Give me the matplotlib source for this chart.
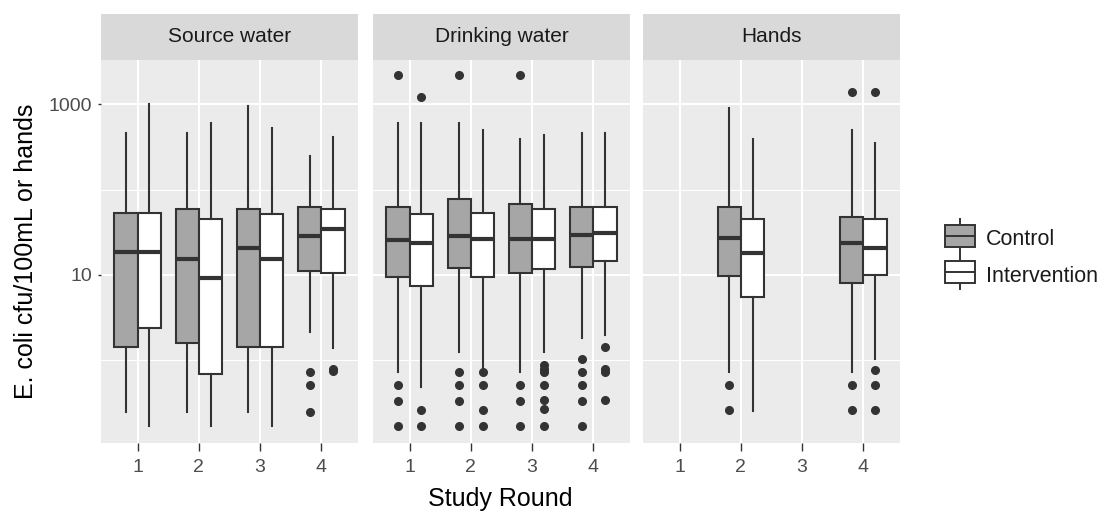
# %% Libraries
import matplotlib
matplotlib.use("Agg")
import matplotlib.pyplot as plt
from matplotlib.ticker import FixedLocator, NullFormatter

plt.rcParams['font.family'] = ['Liberation Sans', 'DejaVu Sans']

# %% Data
# --+ categories
rounds = [1, 2, 3, 4]
panels = ['Source water', 'Drinking water', 'Hands']
groups = ['Control', 'Intervention']
# --+ boxes per round: [whisker low, q1, median, q3, whisker high], None = no data
sw_control = [[0.25, 1.44, 18.5, 52.9, 466], [0.25, 1.58, 15.3, 58.9, 466],
              [0.25, 1.44, 20.5, 58.9, 960], [2.13, 11.2, 28.6, 62.2, 248]]
sw_interv = [[0.17, 2.41, 18.5, 52.9, 1000], [0.17, 0.685, 9.1, 45.7, 600],
             [0.17, 1.44, 15.3, 51.9, 533], [1.38, 10.5, 34.3, 58.9, 418]]
dw_control = [[0.72, 9.56, 25.7, 63.2, 600], [1.26, 12.0, 28.6, 77.1, 600],
              [0.72, 10.5, 26.7, 67.9, 390], [1.81, 12.5, 29.2, 63.2, 466]]
dw_interv = [[0.49, 7.43, 23.9, 51.9, 600], [0.80, 9.4, 26.2, 52.9, 500],
             [1.26, 11.6, 26.7, 58.9, 438], [1.98, 14.6, 30.8, 63.2, 466]]
ha_control = [None, [0.72, 9.7, 26.9, 63.2, 900], None, [0.72, 8.13, 23.5, 48.3, 500]]
ha_interv = [None, [0.255, 5.57, 18.3, 45.7, 390], None, [1.03, 10.0, 20.5, 45.7, 356]]
# --+ outliers per round
sw_control_out = [[], [], [], [0.73, 0.51, 0.25]]
sw_interv_out = [[], [], [], [0.78, 0.74]]
dw_control_out = [[2213, 0.51, 0.33, 0.17], [2213, 0.72, 0.51, 0.33, 0.17],
                  [2213, 0.51, 0.33, 0.17], [1.03, 0.72, 0.51, 0.33, 0.17]]
dw_interv_out = [[1233, 0.26, 0.17], [0.72, 0.51, 0.26, 0.17],
                 [0.88, 0.80, 0.72, 0.51, 0.34, 0.27, 0.17], [1.44, 0.80, 0.72, 0.34]]
ha_control_out = [[], [0.51, 0.26], [], [1410, 0.51, 0.26]]
ha_interv_out = [[], [], [], [1410, 0.77, 0.51, 0.26]]
# --+ axis
y_breaks = [10, 1000]
y_labels = ['10', '1000']
y_minor = [1, 100]

boxes = [(sw_control, sw_control_out, sw_interv, sw_interv_out),
         (dw_control, dw_control_out, dw_interv, dw_interv_out),
         (ha_control, ha_control_out, ha_interv, ha_interv_out)]

# %% Style
BG = '#EBEBEB'
STRIP = '#D9D9D9'
EDGE = '#333333'
FILLS = ['#A6A6A6', 'white']
W, H = 1106, 517
panel_x = [(101, 358), (373, 630), (643, 900)]
top, bottom, strip_top = 60, 443, 14
width = 0.38


def stats_of(rows, outs):
    out = []
    pos = []
    for r, row, fl in zip(rounds, rows, outs):
        if row is None:
            continue
        lo, q1, med, q3, hi = row
        out.append(dict(whislo=lo, q1=q1, med=med, q3=q3, whishi=hi, fliers=fl))
        pos.append(r)
    return out, pos


def draw_box(ax, st, pos, fill):
    ax.bxp(st, positions=pos, widths=width, patch_artist=True, showcaps=False,
           boxprops=dict(facecolor=fill, edgecolor=EDGE, linewidth=1.5),
           medianprops=dict(color=EDGE, linewidth=3.0),
           whiskerprops=dict(color=EDGE, linewidth=1.5),
           flierprops=dict(marker='o', markerfacecolor=EDGE, markeredgecolor=EDGE,
                           markersize=5.5, linestyle='none'),
           manage_ticks=False)


# %% Figure
fig = plt.figure(figsize=(W / 100, H / 100), dpi=100)

for i, (name, (c, c_out, t, t_out)) in enumerate(zip(panels, boxes)):
    x0, x1 = panel_x[i]
    ax = fig.add_axes([x0 / W, 1 - bottom / H, (x1 - x0) / W, (bottom - top) / H])
    ax.set_facecolor(BG)
    ax.set_yscale('log')
    ax.set_ylim(10 ** -0.97, 10 ** 3.52)
    ax.set_xlim(0.4, 4.6)
    for s in ax.spines.values():
        s.set_visible(False)
    ax.set_axisbelow(True)
    # --+ grid
    ax.yaxis.set_major_locator(FixedLocator(y_breaks))
    ax.yaxis.set_minor_locator(FixedLocator(y_minor))
    ax.yaxis.set_minor_formatter(NullFormatter())
    ax.set_xticks(rounds)
    ax.set_xticklabels([str(r) for r in rounds])
    ax.grid(which='major', color='white', linewidth=1.5)
    ax.grid(which='minor', axis='y', color='white', linewidth=0.75)
    ax.tick_params(axis='x', length=5.5, width=1, color=EDGE, labelcolor='#4D4D4D',
                   labelsize=14, pad=6)
    ax.tick_params(axis='y', which='major', length=2.5, width=1, color=EDGE,
                   labelcolor='#4D4D4D', labelsize=14, pad=4)
    ax.tick_params(axis='y', which='minor', length=0)
    if i == 0:
        ax.set_yticklabels(y_labels)
    else:
        ax.tick_params(axis='y', which='major', length=0, labelleft=False)
    # --+ boxes
    st, pos = stats_of(c, c_out)
    draw_box(ax, st, [p - width / 2 for p in pos], FILLS[0])
    st, pos = stats_of(t, t_out)
    draw_box(ax, st, [p + width / 2 for p in pos], FILLS[1])
    # --+ strip
    sx = fig.add_axes([x0 / W, 1 - top / H, (x1 - x0) / W, (top - strip_top) / H])
    sx.set_facecolor(STRIP)
    sx.set_xticks([])
    sx.set_yticks([])
    for s in sx.spines.values():
        s.set_visible(False)
    sx.text(0.5, 0.5, name, ha='center', va='center', fontsize=15, color='#1A1A1A',
            transform=sx.transAxes)

# --+ axis titles
fig.text(26 / W, 1 - 251 / H, 'E. coli cfu/100mL or hands', rotation=90,
         ha='center', va='center', fontsize=18, color='black')
fig.text(500.5 / W, 1 - 499 / H, 'Study Round', ha='center', va='center',
         fontsize=18, color='black')

# %% Legend
lx = fig.add_axes([942 / W, 1 - 290 / H, 36 / W, 72 / H])
lx.set_xlim(0, 1)
lx.set_ylim(0, 2)
lx.axis('off')
key = [dict(whislo=1.03, q1=1.2, med=1.5, q3=1.8, whishi=1.97, fliers=[]),
       dict(whislo=0.03, q1=0.2, med=0.5, q3=0.8, whishi=0.97, fliers=[])]
for k, fill in zip(key, FILLS):
    lx.bxp([k], positions=[0.5], widths=0.85, patch_artist=True, showcaps=False,
           boxprops=dict(facecolor=fill, edgecolor=EDGE, linewidth=1.4),
           medianprops=dict(color=EDGE, linewidth=1.4),
           whiskerprops=dict(color=EDGE, linewidth=1.4), manage_ticks=False)
for g, yc in zip(groups, [240, 277]):
    fig.text(986 / W, 1 - yc / H, g, ha='left', va='center', fontsize=15.5, color='#1A1A1A')

fig.savefig('out.png', dpi=100, facecolor='white')
